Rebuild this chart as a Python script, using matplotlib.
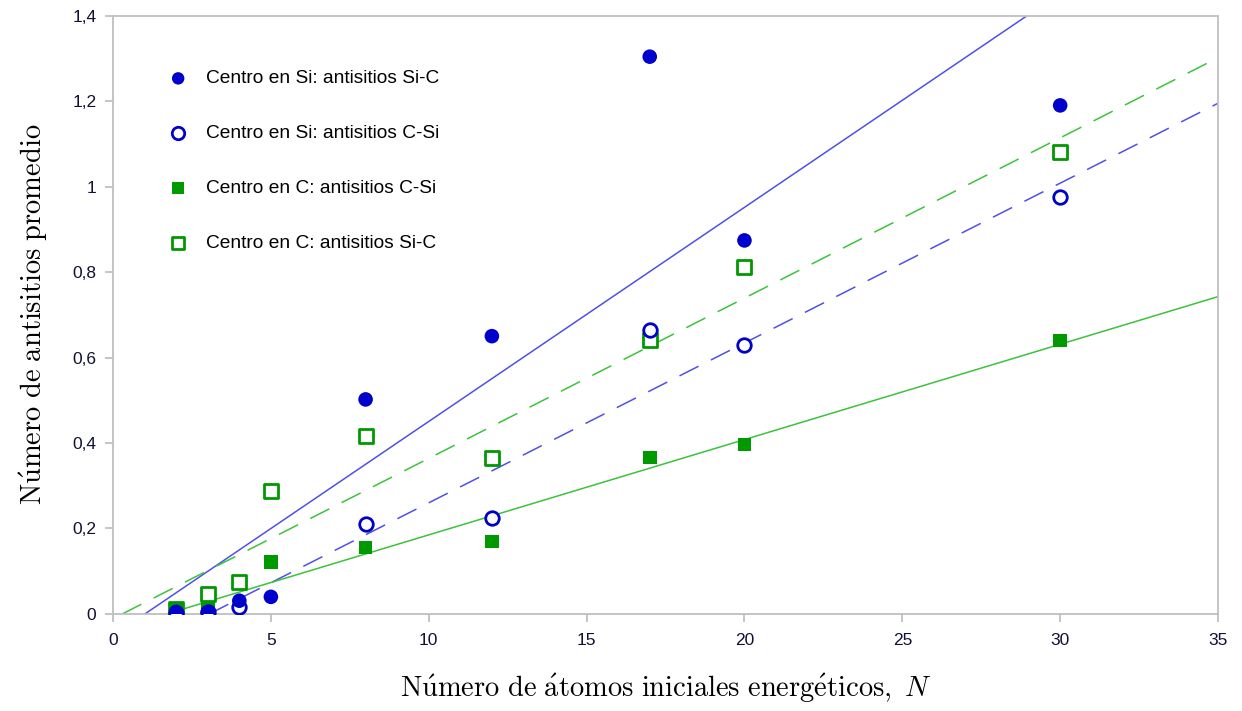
import matplotlib
matplotlib.use("Agg")
import matplotlib.pyplot as plt
import numpy as np
from matplotlib.ticker import FuncFormatter

plt.rcParams["mathtext.fontset"] = "cm"

# Number of initial energetic atoms
N = [2, 3, 4, 5, 8, 12, 17, 20, 30]
N_csi_si = [2, 3, 4, 8, 12, 17, 20, 30]

# Average number of antisites per series
si_sic = [0.005, 0.003, 0.031, 0.040, 0.502, 0.650, 1.304, 0.874, 1.190]
si_csi = [0.002, 0.004, 0.016, 0.210, 0.224, 0.664, 0.629, 0.975]
c_csi = [0.009, 0.012, 0.022, 0.122, 0.156, 0.170, 0.366, 0.397, 0.640]
c_sic = [0.011, 0.047, 0.075, 0.287, 0.416, 0.366, 0.640, 0.813, 1.080]

# Linear trend lines (slope, intercept)
fit_si_sic = (0.0501, -0.0506)
fit_si_csi = (0.0374, -0.114)
fit_c_csi = (0.0223, -0.038)
fit_c_sic = (0.0375, -0.011)

blue = "#0000cc"
green = "#009900"
blue_line = "#5050e6"
green_line = "#3cc33c"

fig = plt.figure(figsize=(12.42, 7.11), dpi=100)
ax = fig.add_axes([0.091, 0.1365, 0.8897, 0.8415])


def trend(fit, **kw):
    m, b = fit
    x = np.array([-b / m, 35.0])
    ax.plot(x, m * x + b, lw=1.1, zorder=2, **kw)


trend(fit_si_sic, color=blue_line, ls="-")
trend(fit_si_csi, color=blue_line, ls=(0, (14, 9)))
trend(fit_c_csi, color=green_line, ls="-")
trend(fit_c_sic, color=green_line, ls=(0, (14, 9)))

ax.scatter(N, c_sic, marker="s", s=95, facecolor="white", edgecolor=green,
           linewidth=2, zorder=3, label="Centro en C: antisitios Si-C")
ax.scatter(N, c_csi, marker="s", s=95, color=green, edgecolor="none",
           zorder=3, label="Centro en C: antisitios C-Si")
ax.scatter(N_csi_si, si_csi, marker="o", s=95, facecolor="white",
           edgecolor=blue, linewidth=2, zorder=4,
           label="Centro en Si: antisitios C-Si")
ax.scatter(N, si_sic, marker="o", s=110, color=blue, edgecolor="none",
           zorder=5, label="Centro en Si: antisitios Si-C")

ax.set_xlim(0, 35)
ax.set_ylim(0, 1.4)
ax.set_xticks(np.arange(0, 36, 5))
ax.set_yticks(np.arange(0, 1.41, 0.2))


def comma(v, pos):
    s = f"{v:.1f}".rstrip("0").rstrip(".")
    return s.replace(".", ",")


ax.yaxis.set_major_formatter(FuncFormatter(comma))

for sp in ax.spines.values():
    sp.set_color("#bfbfbf")
    sp.set_linewidth(1.3)
ax.tick_params(colors="#bfbfbf", labelcolor="#111133", length=6, width=1.3,
               labelsize=12.5)
for lab in ax.get_xticklabels() + ax.get_yticklabels():
    lab.set_fontfamily("Liberation Sans")
ax.tick_params(axis="x", pad=8)
ax.tick_params(axis="y", pad=6)

ax.set_xlabel(r"$\mathrm{N\acute{u}mero\ de\ \acute{a}tomos\ iniciales\ energ\acute{e}ticos,}\ N$",
              fontsize=20.5, labelpad=17)
ax.set_ylabel(r"$\mathrm{N\acute{u}mero\ de\ antisitios\ promedio}$",
              fontsize=20.5, labelpad=16)

handles, labels = ax.get_legend_handles_labels()
order = [3, 2, 1, 0]
leg = ax.legend([handles[i] for i in order], [labels[i] for i in order],
                loc="upper left", bbox_to_anchor=(0.026, 0.938),
                frameon=False, labelspacing=1.95, handletextpad=0.45,
                prop={"family": "Liberation Sans", "size": 13.8})
for h in leg.legend_handles:
    h.set_sizes([80])

fig.savefig("out.png", dpi=100)
